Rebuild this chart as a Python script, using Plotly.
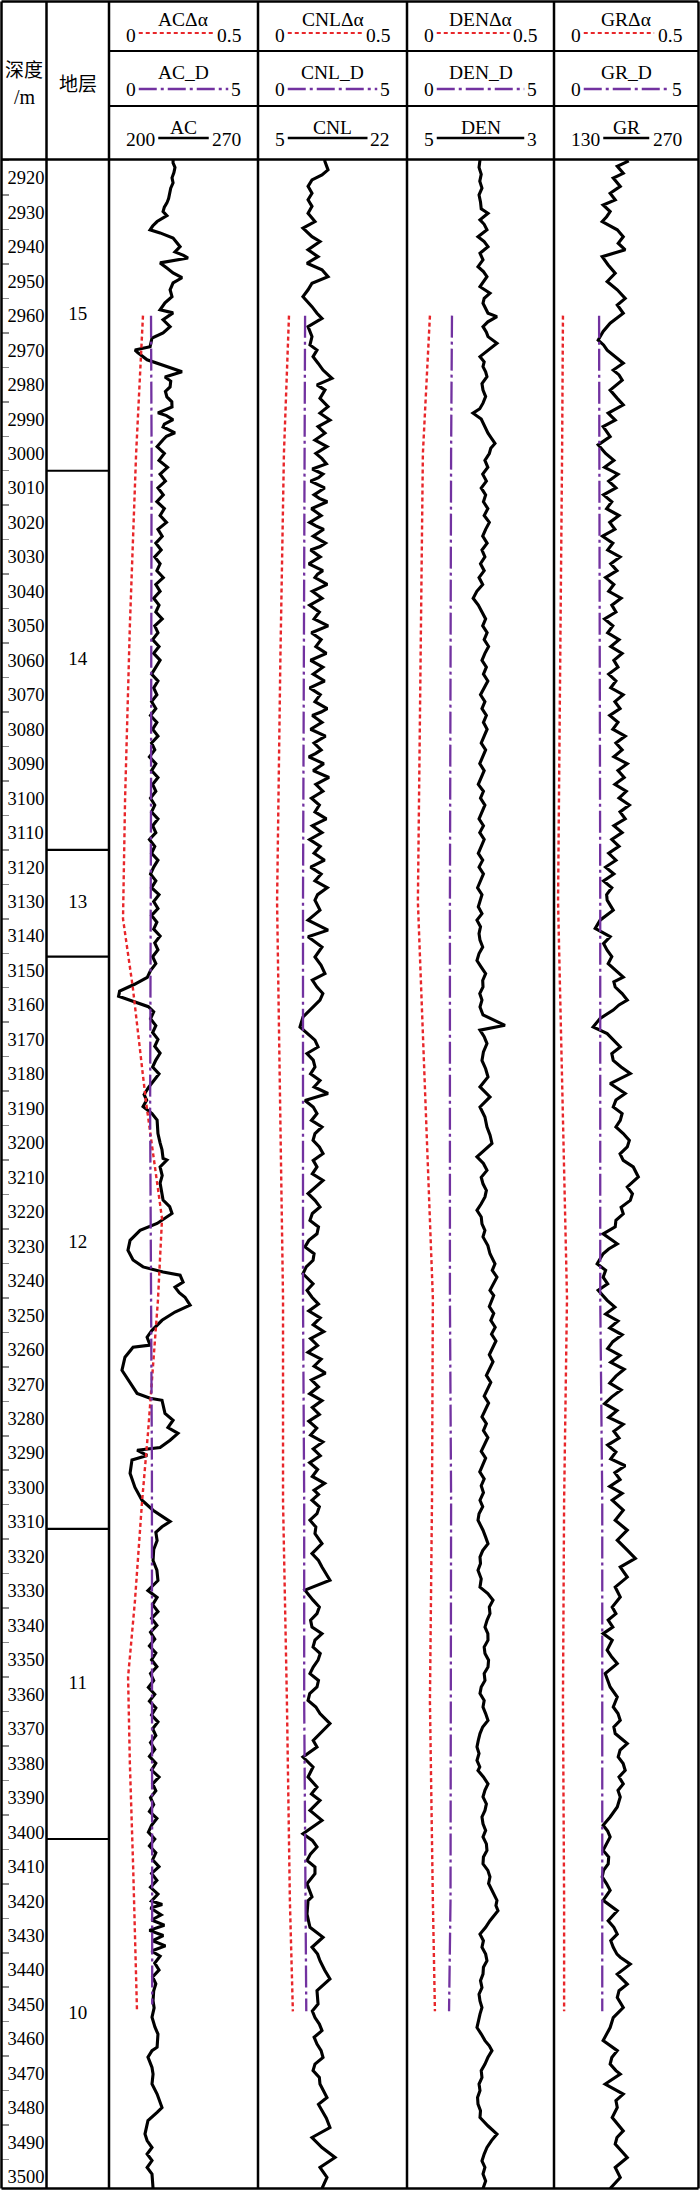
import plotly.graph_objects as go

# ------------------------------------------------------------------ data
FORMATION_NAMES = ["15", "14", "13", "12", "11", "10"]
FORMATION_BOUNDS = [3005, 3115, 3146, 3312, 3402]
DEPTH_TOP, DEPTH_BOTTOM = 2914.7, 3503.4

# (depth m, value)
AC_LOG = [
    (2914.8, 230.1), (2915.7, 230.1), (2917.0, 231.0), (2918.5, 230.5), (2920.0, 229.6), (2921.5, 230.1),
    (2923.0, 229.0), (2924.4, 228.7), (2926.0, 228.0), (2927.3, 227.2), (2928.5, 226.0), (2929.8, 225.4),
    (2931.0, 227.2), (2932.7, 222.6), (2934.0, 220.5), (2935.1, 219.3), (2936.0, 224.0), (2937.5, 230.1),
    (2939.0, 232.0), (2940.0, 233.4), (2941.5, 231.0), (2942.5, 235.0), (2943.3, 237.1), (2944.7, 224.0),
    (2946.2, 227.2), (2947.6, 230.1), (2949.0, 234.3), (2950.5, 230.1), (2952.5, 228.7), (2954.5, 229.6),
    (2956.3, 226.3), (2958.3, 224.0), (2959.2, 230.1), (2961.2, 225.4), (2963.2, 228.7), (2965.0, 225.4),
    (2966.5, 220.2), (2969.0, 219.3), (2970.0, 212.2), (2970.8, 213.6), (2972.8, 217.9), (2974.9, 227.2),
    (2976.3, 234.3), (2977.8, 226.3), (2979.0, 229.0), (2980.7, 228.7), (2982.0, 226.5), (2983.6, 227.2),
    (2985.0, 229.5), (2986.5, 229.6), (2988.2, 223.0), (2989.0, 227.0), (2990.2, 230.1), (2991.5, 226.0),
    (2992.3, 225.4), (2994.0, 231.0), (2995.0, 227.0), (2996.0, 225.4), (2998.0, 222.6),
    (3000, 226.0), (3002, 223.5), (3004, 227.5), (3006, 224.0), (3008, 226.5), (3010, 223.0), (3012, 225.5),
    (3014, 222.5), (3016, 226.0), (3018, 224.0), (3020, 227.0), (3022, 223.0), (3024, 225.0), (3026, 222.0),
    (3028, 224.5), (3030, 221.5), (3032, 224.0), (3034, 222.5), (3036, 225.5), (3038, 222.0), (3040, 224.0),
    (3042, 221.0), (3044, 223.5), (3046, 222.0), (3048, 225.0), (3050, 221.5), (3052, 223.0), (3054, 220.5),
    (3056, 223.5), (3058, 221.0), (3060, 224.0), (3062, 222.0), (3064, 220.0), (3066, 223.0), (3068, 221.0),
    (3070, 222.5), (3072, 220.0), (3074, 222.0), (3076, 219.5), (3078, 222.5), (3080, 220.5), (3082, 223.0),
    (3084, 220.0), (3086, 221.5), (3088, 219.0), (3090, 222.0), (3092, 220.0), (3094, 223.0), (3096, 220.5),
    (3098, 222.0), (3100, 219.5), (3102, 221.5), (3104, 220.0), (3106, 223.0), (3108, 220.5), (3110, 222.0),
    (3112, 219.0), (3114, 221.5), (3116, 220.0), (3118, 223.0), (3120, 221.0), (3122, 219.5), (3124, 222.0),
    (3126, 220.0), (3128, 223.5), (3130, 221.0), (3132, 223.0), (3134, 220.0), (3136, 222.5), (3138, 221.0),
    (3140, 224.0), (3142, 221.5), (3144, 223.0), (3146, 220.5), (3148, 222.0), (3150, 219.5), (3152, 218.0),
    (3154, 212.0), (3156, 205.0), (3157.5, 204.5), (3159, 212.0), (3160.5, 218.5), (3162, 221.0),
    (3164, 219.5), (3166, 222.0), (3168, 220.5), (3170, 223.0), (3172, 221.5), (3174, 224.0), (3176, 222.0),
    (3178, 220.5), (3180, 223.5), (3182, 221.0), (3184, 218.5), (3186, 216.5),
    (3187.6, 217.7), (3189.5, 216.0), (3191.5, 220.2), (3193.4, 222.6), (3197.3, 223.0), (3200.0, 224.0),
    (3202.0, 224.9), (3204.5, 225.4), (3205.0, 227.2), (3207.0, 224.0), (3209.5, 225.0), (3211.7, 224.0),
    (3214.0, 224.5), (3216.6, 225.4), (3218.5, 228.5), (3220.5, 229.6), (3223.4, 222.6), (3225.4, 214.6),
    (3228.3, 209.9), (3231.2, 208.9), (3234.0, 211.3), (3236.0, 216.0), (3237.5, 225.4), (3238.4, 233.4),
    (3240.4, 234.8), (3241.9, 231.0), (3243.5, 233.0), (3244.8, 235.7), (3247.1, 238.1), (3249.1, 231.0),
    (3251.5, 224.9), (3254.4, 220.2), (3256.4, 217.9), (3258.7, 219.3), (3259.3, 211.3), (3262.2, 207.5),
    (3266.0, 206.1), (3269.8, 209.9), (3272.7, 213.2), (3274.1, 219.3), (3274.7, 224.9), (3278.5, 226.3),
    (3280.5, 230.1), (3282.6, 227.7), (3284.3, 232.4), (3286.3, 228.7), (3288.4, 224.0), (3289.2, 213.2),
    (3290.7, 217.9), (3292.0, 210.8), (3295.9, 209.9), (3300.0, 212.2), (3303.7, 215.5), (3306.6, 220.7),
    (3308.7, 225.4), (3309.9, 228.7), (3311.4, 224.9), (3313.0, 222.0), (3315.4, 222.6), (3318.0, 221.0),
    (3321.2, 220.7), (3324.0, 222.5), (3327.0, 223.0), (3329.9, 218.3), (3331.9, 222.6),
    (3334, 220.5), (3336, 223.0), (3338, 220.0), (3340, 222.5), (3342, 219.5), (3344, 221.5), (3346, 219.0),
    (3348, 222.0), (3350, 220.0), (3352, 222.5), (3354, 219.5), (3356, 221.0), (3358, 218.5), (3360, 221.5),
    (3362, 219.0), (3364, 222.0), (3366, 220.0), (3368, 223.0), (3370, 220.5), (3372, 222.0), (3374, 219.5),
    (3376, 221.5), (3378, 219.0), (3380, 222.0), (3382, 220.0), (3384, 223.5), (3386, 220.5), (3388, 222.0),
    (3390, 219.5), (3392, 221.0), (3394, 219.0), (3396, 222.5), (3398, 220.0), (3400, 218.5), (3402, 221.5),
    (3404, 219.0), (3406, 222.0), (3408, 220.5), (3410, 223.5), (3412, 220.0), (3414, 222.5), (3416, 219.5),
    (3418, 223.0), (3420, 220.0), (3421, 225.0), (3422, 219.5), (3424, 224.5), (3425.5, 220.0), (3427, 226.0),
    (3428.5, 219.0), (3430, 225.5), (3431.5, 220.5), (3433, 226.5), (3434.5, 220.0), (3436, 224.0),
    (3438, 221.5), (3440, 223.5), (3442, 220.5), (3444, 222.0), (3446, 221.0),
    (3448.9, 220.7), (3451.0, 221.2), (3453.7, 220.2), (3456.6, 221.6), (3458.6, 223.0), (3462.4, 222.6),
    (3463.4, 220.2), (3465.3, 218.3), (3468.3, 220.2), (3470.2, 220.7), (3473.1, 220.2), (3476.0, 222.6),
    (3479.9, 224.9), (3481.3, 222.6), (3483.7, 218.3), (3487.6, 216.9), (3489.5, 217.9), (3491.5, 220.2),
    (3493.4, 217.9), (3495.3, 220.2), (3497.3, 217.9), (3499.2, 220.2), (3503.4, 220.7),
]

CNL_LOG = [
    (2914.8, 12.6), (2915.3, 12.64), (2917.7, 12.99), (2919.2, 12.30), (2920.6, 11.16), (2922.5, 10.71),
    (2924.5, 11.16), (2926.4, 10.71), (2928.3, 11.16), (2930.3, 10.71), (2932.7, 11.50), (2934.6, 10.13),
    (2937.1, 11.16), (2938.5, 12.07), (2940.9, 10.71), (2942.9, 11.85), (2944.8, 10.59), (2946.7, 12.30),
    (2948.7, 12.99), (2950.6, 11.16), (2952.5, 10.71), (2954.5, 10.13), (2957.4, 11.16), (2959.3, 11.73),
    (2960.8, 12.30), (2963.2, 10.71), (2966.1, 11.16), (2968.5, 10.93), (2970.0, 11.73), (2971.9, 11.28),
    (2973.8, 11.85), (2975.8, 12.42), (2978.2, 13.44), (2980.1, 11.73), (2981.6, 12.64), (2984.0, 12.07),
    (2986.4, 12.99), (2988.3, 12.07), (2990.3, 13.21), (2992.2, 11.85), (2994.1, 12.64), (2996.1, 11.50),
    (2998.0, 12.87),
    (3000, 11.6), (3001.5, 12.3), (3003, 12.8), (3004.5, 11.2), (3006, 12.4), (3007, 11.9), (3008, 11.0),
    (3010, 12.6), (3012, 11.4), (3013, 12.0), (3014, 12.9), (3016, 11.1), (3018, 12.2), (3020, 10.9),
    (3021, 11.6), (3022, 12.5), (3024, 11.3), (3026, 12.7), (3027, 12.1), (3028, 11.0), (3030, 12.1),
    (3032, 10.8), (3034, 12.4), (3035, 11.8), (3036, 11.5), (3038, 12.9), (3040, 11.2), (3042, 12.3),
    (3044, 10.9), (3046, 12.0), (3047, 11.7), (3048, 11.4), (3050, 13.0), (3052, 11.1), (3054, 12.2),
    (3056, 11.6), (3058, 12.8), (3060, 11.0), (3062, 12.4), (3063, 11.9), (3064, 11.3), (3066, 12.6),
    (3068, 10.9), (3070, 12.1), (3072, 11.5), (3074, 12.9), (3075, 12.2), (3076, 11.2), (3078, 12.3),
    (3080, 11.0), (3082, 12.7), (3084, 11.4), (3086, 12.2), (3087, 11.6), (3088, 10.8), (3090, 12.5),
    (3092, 11.3), (3094, 13.1), (3096, 11.6), (3098, 12.4), (3100, 11.1), (3102, 12.0), (3104, 11.5),
    (3106, 12.8), (3108, 11.2), (3110, 12.3), (3112, 10.9), (3114, 12.1), (3116, 11.4), (3118, 12.6),
    (3120, 11.0), (3122, 12.2), (3124, 11.5), (3126, 12.9), (3128, 11.8),
    (3129.6, 11.50), (3132.5, 12.07), (3135.4, 10.71), (3138.3, 12.99), (3140.2, 10.71), (3143.2, 12.30),
    (3146.1, 11.50), (3148.5, 12.2), (3150.9, 12.64), (3152.8, 11.2), (3154.8, 11.73), (3156.7, 12.4),
    (3158.6, 12.07), (3161.5, 10.93), (3163.5, 10.13), (3166.4, 9.79), (3168.3, 10.71), (3170.2, 11.5),
    (3172.2, 11.85), (3174.1, 10.59), (3176.0, 11.3), (3178.0, 11.50), (3180.0, 11.0), (3181.9, 12.07),
    (3183.8, 11.4), (3185.7, 12.99), (3187.7, 10.36), (3189.6, 11.3), (3191.5, 11.73), (3193.5, 11.1),
    (3195.4, 12.30), (3197.3, 11.5), (3199.3, 11.28), (3201.2, 12.0), (3203.1, 12.42), (3205.1, 11.3),
    (3207.0, 11.73), (3209.0, 11.2), (3210.9, 12.42), (3212.8, 11.6), (3214.7, 10.71), (3216.7, 11.5),
    (3218.6, 12.07), (3220.5, 11.2), (3222.5, 10.93), (3224.4, 11.9), (3226.4, 11.73), (3228.3, 10.8),
    (3230.2, 10.36), (3232.2, 11.4), (3234.1, 11.28), (3236.0, 10.5), (3238.0, 10.13), (3240.9, 11.28),
    (3242.8, 10.6), (3244.8, 11.16),
    (3246.8, 11.9), (3248.8, 10.8), (3250.8, 12.1), (3252.8, 11.3), (3254.8, 12.5), (3256.8, 11.0),
    (3258.8, 11.8), (3260.8, 10.7), (3262.8, 12.2), (3264.8, 11.4), (3266.8, 12.7), (3268.8, 11.1),
    (3270.8, 11.9), (3272.8, 10.9), (3274.8, 12.3), (3276.8, 11.2), (3278.8, 12.0), (3280.8, 10.8),
    (3282.8, 11.7), (3284.8, 11.0), (3286.8, 12.4), (3288.8, 11.3), (3290.8, 12.1), (3292.8, 10.9),
    (3294.8, 11.8), (3296.8, 11.2), (3298.8, 12.6), (3300.8, 11.4), (3302.0, 11.9),
    (3303.7, 11.16), (3305.6, 12.0), (3307.6, 11.73), (3309.5, 10.93), (3311.5, 11.6), (3313.4, 11.50),
    (3316.3, 12.30), (3319.2, 11.16), (3321.2, 11.9), (3323.1, 12.30), (3326.9, 13.21), (3329.8, 10.36),
    (3332.7, 11.28), (3334.7, 12.0), (3336.6, 11.73), (3338.5, 11.0), (3340.5, 11.16), (3342.4, 12.30),
    (3344.3, 11.5), (3346.3, 11.28), (3348.2, 12.1), (3350.1, 11.85), (3352.1, 11.3), (3354.0, 10.93),
    (3356.0, 11.9), (3357.9, 11.73), (3359.8, 10.9), (3361.8, 10.71), (3363.7, 11.6), (3365.6, 12.07),
    (3368.5, 13.21), (3371.4, 12.07), (3373.4, 11.3), (3375.3, 11.73), (3378.2, 10.13), (3381.1, 11.28),
    (3384.0, 10.71), (3386.9, 11.73), (3388.9, 11.1), (3390.8, 12.07), (3393.7, 10.93), (3396.6, 12.30),
    (3400.5, 10.13), (3402.4, 11.2), (3404.3, 11.73), (3406.3, 11.0), (3408.2, 10.59), (3410.1, 11.5),
    (3412.1, 11.50), (3415.0, 10.59), (3418.8, 11.16),
    (3419.9, 10.71), (3423.8, 10.59), (3427.6, 10.93), (3430.5, 12.42), (3433.4, 11.16), (3435.4, 11.8),
    (3437.3, 12.07), (3440.0, 12.6), (3442.6, 13.21), (3446.0, 11.73), (3449.9, 11.85), (3451.9, 11.2),
    (3453.8, 11.50), (3455.7, 12.0), (3457.6, 12.30), (3459.5, 11.4), (3461.5, 11.73), (3463.4, 12.2),
    (3465.4, 12.42), (3467.3, 11.5), (3469.2, 11.28), (3471.2, 12.0), (3473.1, 12.07), (3475.0, 12.5),
    (3477.0, 12.87), (3479.0, 11.9), (3480.9, 12.30), (3483.0, 12.8), (3485.7, 13.21), (3488.6, 11.16),
    (3491.5, 12.30), (3494.4, 13.79), (3497.3, 12.07), (3500.2, 12.87), (3503.4, 12.30),
]

DEN_LOG = [
    (2914.8, 4.007), (2917, 4.02), (2919, 3.99), (2921, 4.01), (2923, 3.98), (2925, 4.02), (2927, 4.00),
    (2929, 3.99), (2930.3, 3.898), (2932.2, 4.007), (2933.5, 3.95), (2935.1, 3.912), (2937.1, 4.034),
    (2938.5, 3.95), (2940.0, 3.898), (2941.9, 4.007), (2943.8, 3.966), (2945.8, 4.034), (2947.2, 3.96),
    (2948.7, 3.912), (2951.6, 4.007), (2953.5, 3.871), (2955.0, 3.95), (2956.4, 3.966), (2959.3, 3.898),
    (2960.3, 3.776), (2961.8, 3.90), (2963.2, 3.966), (2964.8, 3.92), (2966.1, 3.898), (2968.0, 3.776),
    (2970.0, 3.898), (2971.9, 4.007), (2973.4, 3.95), (2974.8, 3.966), (2976.3, 3.93), (2977.7, 3.912),
    (2979.7, 3.98), (2981.6, 3.966), (2983.5, 3.93), (2985.4, 3.966), (2987.0, 4.01), (2988.3, 4.102),
    (2990.0, 3.99), (2991.2, 3.966), (2992.7, 3.93), (2994.1, 3.898), (2995.6, 3.85), (2997.1, 3.803),
    (2998.5, 3.86),
    (3000, 3.88), (3002, 3.94), (3004, 3.90), (3006, 3.97), (3008, 3.92), (3010, 3.99), (3012, 3.93),
    (3014, 3.96), (3016, 3.90), (3018, 3.95), (3020, 3.88), (3022, 3.93), (3024, 3.97), (3026, 3.91),
    (3028, 3.98), (3030, 3.94), (3032, 4.00), (3034, 3.95), (3036, 4.02), (3038, 3.97), (3040, 4.05),
    (3042, 4.10), (3044, 4.03), (3046, 3.98), (3048, 3.93), (3050, 3.97), (3052, 3.91), (3054, 3.95),
    (3056, 3.89), (3058, 3.94), (3060, 3.98), (3062, 3.92), (3064, 3.96), (3066, 3.90), (3068, 3.95),
    (3070, 4.00), (3072, 3.94), (3074, 3.98), (3076, 3.92), (3078, 3.96), (3080, 3.91), (3082, 3.95),
    (3084, 3.99), (3086, 3.93), (3088, 3.97), (3090, 4.01), (3092, 3.95), (3094, 3.99), (3096, 4.03),
    (3098, 3.96), (3100, 4.00), (3102, 3.94), (3104, 3.98), (3106, 4.02), (3108, 3.96), (3110, 4.01),
    (3112, 3.95), (3114, 3.99), (3116, 4.03), (3118, 3.97), (3120, 4.02), (3122, 3.96), (3124, 4.00),
    (3126, 4.04), (3128, 3.98),
    (3129.6, 4.00), (3131.5, 4.03), (3133.5, 3.98), (3135.4, 4.048), (3137.3, 4.00), (3139.3, 4.02),
    (3141.2, 4.007), (3143.2, 3.97), (3145.1, 4.02), (3147.1, 4.048), (3149.0, 3.99), (3150.9, 3.93),
    (3152.9, 3.97), (3154.8, 3.966), (3156.7, 4.01), (3158.6, 3.98), (3160.6, 4.007), (3162.9, 3.966),
    (3165.9, 3.667), (3167.3, 4.007), (3169.2, 3.95), (3171.2, 3.912), (3173.6, 3.96), (3176.1, 3.980),
    (3178.5, 3.93), (3180.9, 3.898), (3183.8, 4.007), (3186.7, 3.871), (3189.6, 4.007), (3192.5, 3.94),
    (3195.4, 3.912), (3197.8, 3.87), (3200.2, 3.844), (3202.2, 3.95), (3204.1, 4.048), (3206.0, 3.96),
    (3208.0, 3.912), (3210.0, 3.99), (3211.9, 3.966), (3213.8, 3.92), (3215.7, 3.939), (3217.7, 3.99),
    (3219.6, 4.048), (3221.5, 3.99), (3223.5, 3.980), (3225.4, 3.94), (3227.3, 3.966), (3229.8, 3.90),
    (3232.2, 3.871), (3235.1, 3.803), (3237.0, 3.84), (3239.0, 3.776), (3241.0, 3.83), (3242.8, 3.871),
    (3244.3, 3.82), (3245.7, 3.844),
    (3247.5, 3.88), (3249.5, 3.82), (3251.5, 3.86), (3253.5, 3.80), (3255.5, 3.85), (3257.5, 3.79),
    (3259.5, 3.84), (3261.5, 3.88), (3263.5, 3.83), (3265.5, 3.87), (3267.5, 3.92), (3269.5, 3.86),
    (3271.5, 3.90), (3273.5, 3.95), (3275.5, 3.89), (3277.5, 3.93), (3279.5, 3.98), (3281.5, 3.92),
    (3283.5, 3.96), (3285.5, 3.90), (3287.5, 3.94), (3289.5, 3.99), (3291.5, 3.93), (3293.5, 3.97),
    (3295.5, 4.01), (3297.5, 3.95), (3299.5, 3.99), (3301.5, 3.96),
    (3303.7, 4.007), (3305.6, 3.97), (3307.6, 4.02), (3309.5, 4.034), (3311.5, 3.98), (3312.4, 3.966),
    (3314.4, 3.93), (3316.3, 3.898), (3318.3, 3.97), (3320.2, 4.007), (3322.1, 4.00), (3324.0, 4.034),
    (3326.5, 3.99), (3328.9, 4.007), (3330.8, 3.90), (3332.7, 3.830), (3334.7, 3.88), (3336.6, 3.871),
    (3338.5, 3.91), (3340.5, 3.939), (3342.4, 3.90), (3344.3, 3.898), (3346.3, 3.95), (3348.2, 3.939),
    (3350.1, 3.89), (3352.1, 3.898), (3354.0, 3.95), (3356.0, 3.939), (3357.9, 3.99), (3359.8, 4.007),
    (3361.8, 3.95), (3363.7, 3.966), (3365.6, 3.93), (3367.6, 3.898), (3369.5, 3.97), (3371.4, 4.007),
    (3373.4, 4.03), (3375.3, 4.048), (3377.2, 4.02), (3379.2, 4.048), (3381.1, 4.01), (3382.1, 4.034),
    (3384.0, 3.96), (3386.0, 3.898), (3387.9, 3.94), (3389.8, 3.966), (3391.8, 3.92), (3393.7, 3.939),
    (3395.6, 3.98), (3397.6, 3.966), (3399.5, 3.93), (3401.4, 3.966), (3403.4, 3.92), (3405.3, 3.912),
    (3407.2, 3.96), (3409.2, 3.966), (3411.1, 3.90), (3413.0, 3.871), (3414.9, 3.89), (3416.9, 3.844),
    (3418.3, 3.82), (3419.8, 3.776),
    (3421.3, 3.79), (3422.8, 3.762), (3425.7, 3.871), (3427.6, 3.93), (3429.6, 4.007), (3431.5, 3.96),
    (3433.4, 3.980), (3435.4, 3.93), (3437.3, 3.912), (3439.2, 3.96), (3441.2, 3.966), (3443.1, 4.00),
    (3445.1, 3.980), (3447.0, 4.02), (3449.0, 4.007), (3450.9, 3.98), (3452.8, 4.007), (3454.8, 4.03),
    (3456.7, 4.048), (3458.6, 3.99), (3460.5, 3.939), (3462.0, 3.88), (3463.4, 3.844), (3465.4, 3.90),
    (3467.3, 3.939), (3469.2, 3.99), (3471.2, 3.980), (3473.1, 4.02), (3475.0, 4.007), (3477.0, 4.04),
    (3478.9, 4.034), (3480.8, 4.00), (3482.8, 4.007), (3485.2, 3.90), (3487.6, 3.776), (3489.5, 3.85),
    (3491.5, 3.912), (3493.4, 3.95), (3495.4, 3.980), (3497.3, 3.94), (3499.2, 3.966), (3501.2, 3.93),
    (3503.4, 3.966),
]

GR_LOG = [
    (2914.8, 200.0), (2915.3, 201.0), (2916.7, 191.3), (2918.7, 197.1), (2920.1, 187.4), (2922.5, 194.2),
    (2924.5, 184.4), (2926.4, 189.3), (2927.9, 177.6), (2929.8, 184.4), (2931.3, 181.0), (2932.7, 176.7),
    (2935.1, 191.3), (2937.1, 197.1), (2939.0, 192.2), (2940.9, 199.0), (2942.9, 176.7), (2945.3, 182.5),
    (2947.7, 189.3), (2950.1, 181.5), (2952.5, 191.3), (2955.0, 199.0), (2956.9, 191.3), (2959.3, 197.1),
    (2962.2, 184.4), (2964.6, 177.6), (2967.1, 172.8), (2968.5, 178.0), (2970.0, 181.5), (2971.9, 189.3),
    (2973.8, 197.1), (2975.8, 187.4), (2977.2, 193.0), (2978.7, 196.1), (2981.6, 184.4), (2984.0, 191.3),
    (2985.9, 197.1), (2988.3, 182.5), (2990.3, 189.3), (2992.2, 177.6), (2995.1, 184.4), (2997.5, 172.8),
    (3000, 180.0), (3002, 188.0), (3004, 179.0), (3006, 192.0), (3008, 183.0), (3010, 190.0), (3012, 178.0),
    (3014, 186.0), (3016, 181.0), (3018, 193.0), (3020, 184.0), (3022, 189.0), (3024, 177.0), (3026, 187.0),
    (3028, 182.0), (3030, 194.0), (3032, 185.0), (3034, 191.0), (3036, 180.0), (3038, 188.0), (3040, 183.0),
    (3042, 195.0), (3044, 186.0), (3046, 190.0), (3048, 179.0), (3050, 187.0), (3052, 182.0), (3054, 193.0),
    (3056, 185.0), (3058, 196.0), (3060, 188.0), (3062, 192.0), (3064, 183.0), (3066, 190.0), (3068, 185.0),
    (3070, 197.0), (3072, 189.0), (3074, 194.0), (3076, 184.0), (3078, 192.0), (3080, 187.0), (3082, 199.0),
    (3084, 190.0), (3086, 196.0), (3088, 188.0), (3090, 201.0), (3092, 192.0), (3094, 198.0), (3096, 189.0),
    (3098, 200.0), (3100, 193.0), (3102, 203.0), (3104, 194.0), (3106, 199.0), (3108, 188.0), (3110, 196.0),
    (3112, 186.0), (3114, 193.0), (3116, 183.0), (3118, 190.0), (3120, 180.0), (3122, 188.0), (3124, 178.0),
    (3126, 186.0), (3128, 181.0),
    (3129.6, 181.5), (3132.5, 187.4), (3135.4, 174.7), (3137.8, 169.9), (3140.2, 184.4), (3142.2, 178.0),
    (3144.1, 181.5), (3146.0, 186.0), (3148.0, 182.5), (3150.0, 190.0), (3151.9, 197.1), (3153.3, 188.0),
    (3154.8, 189.3), (3156.7, 196.0), (3158.6, 201.0), (3160.0, 193.0), (3161.5, 187.4), (3163.9, 174.7),
    (3166.4, 167.9), (3168.3, 181.5), (3170.3, 188.0), (3172.2, 194.2), (3174.1, 186.0), (3176.1, 187.4),
    (3178.0, 195.0), (3179.9, 203.9), (3182.8, 184.4), (3185.7, 199.0), (3187.6, 190.0), (3189.6, 187.4),
    (3191.5, 196.0), (3193.5, 194.2), (3195.4, 190.0), (3197.3, 197.1), (3199.3, 203.0), (3201.2, 201.0),
    (3203.2, 194.0), (3205.1, 197.1), (3207.0, 206.8), (3209.9, 211.7), (3212.8, 201.0), (3214.8, 206.0),
    (3216.7, 203.9), (3218.7, 195.0), (3220.6, 197.1), (3222.5, 190.0), (3224.4, 189.3), (3226.4, 177.6),
    (3229.3, 191.3), (3230.8, 183.0), (3232.2, 177.6), (3235.1, 171.8), (3237.0, 180.0), (3239.0, 177.6),
    (3240.9, 182.0), (3242.8, 172.8), (3245.7, 181.5),
    (3247.7, 189.0), (3249.7, 180.0), (3251.7, 192.0), (3253.7, 184.0), (3255.7, 196.0), (3257.7, 187.0),
    (3259.7, 182.0), (3261.7, 194.0), (3263.7, 185.0), (3265.7, 198.0), (3267.7, 190.0), (3269.7, 184.0),
    (3271.7, 195.0), (3273.7, 186.0), (3275.7, 179.0), (3277.7, 191.0), (3279.7, 183.0), (3281.7, 197.0),
    (3283.7, 188.0), (3285.7, 193.0), (3287.7, 182.0), (3289.7, 190.0), (3291.7, 185.0), (3293.7, 199.0),
    (3295.7, 189.0), (3297.7, 194.0), (3299.7, 184.0), (3301.7, 196.0),
    (3303.7, 186.4), (3306.6, 197.1), (3309.5, 189.3), (3312.4, 201.0), (3315.3, 191.3), (3318.2, 201.0),
    (3320.6, 208.8), (3323.1, 194.2), (3326.0, 201.0), (3328.9, 189.3), (3331.8, 194.2), (3334.7, 186.4),
    (3336.6, 190.0), (3338.5, 182.5), (3340.5, 187.0), (3342.4, 177.6), (3344.3, 186.4), (3347.2, 181.5),
    (3349.2, 186.0), (3351.1, 191.3), (3354.0, 179.6), (3357.9, 184.4), (3360.8, 191.3), (3363.7, 187.4),
    (3365.6, 192.0), (3367.6, 194.2), (3369.5, 188.0), (3371.4, 189.3), (3374.3, 201.0), (3376.2, 194.0),
    (3378.2, 192.2), (3380.1, 197.0), (3382.1, 199.0), (3384.0, 193.0), (3386.0, 197.1), (3387.9, 192.0),
    (3389.8, 194.2), (3392.7, 191.3), (3395.6, 184.4), (3398.0, 177.6), (3399.7, 182.0), (3401.4, 184.4),
    (3405.3, 177.6), (3407.2, 183.0), (3409.2, 182.5), (3411.1, 178.0), (3413.0, 176.7), (3415.0, 181.0),
    (3416.9, 184.4), (3419.8, 177.6),
    (3422.8, 191.3), (3425.7, 182.5), (3427.6, 188.0), (3429.6, 191.3), (3431.5, 185.0), (3433.4, 187.4),
    (3435.4, 191.0), (3436.3, 194.2), (3438.3, 203.9), (3441.2, 191.3), (3444.1, 201.0), (3446.0, 193.0),
    (3448.0, 191.3), (3450.9, 197.1), (3453.8, 187.4), (3456.7, 184.4), (3458.6, 181.0), (3460.5, 177.6),
    (3463.4, 191.3), (3465.4, 186.0), (3467.3, 184.4), (3469.2, 190.0), (3470.2, 194.2), (3473.1, 179.6),
    (3476.0, 197.1), (3477.9, 190.0), (3479.9, 191.3), (3482.8, 186.4), (3486.7, 197.1), (3488.6, 191.0),
    (3490.5, 189.3), (3494.4, 201.0), (3497.3, 189.3), (3500.2, 194.2), (3503.4, 184.4),
]

AC_DALPHA = [(2960, 0.114), (3000, 0.091), (3050, 0.070), (3100, 0.054), (3135, 0.047), (3155, 0.080),
             (3188, 0.124), (3222, 0.178), (3246, 0.164), (3284, 0.131), (3304, 0.111), (3333, 0.087),
             (3355, 0.064), (3380, 0.070), (3410, 0.081), (3452, 0.094)]
AC_D = [(2960, 1.41), (3000, 1.43), (3100, 1.41), (3190, 1.38), (3294, 1.44), (3380, 1.44), (3450, 1.45)]

CNL_DALPHA = [(2960, 0.104), (3000, 0.087), (3060, 0.075), (3130, 0.064), (3245, 0.084), (3304, 0.084),
              (3362, 0.097), (3420, 0.107), (3452, 0.117)]
CNL_D = [(2960, 1.58), (3000, 1.56), (3130, 1.51), (3245, 1.51), (3304, 1.55), (3362, 1.55),
         (3420, 1.58), (3452, 1.62)]

DEN_DALPHA = [(2960, 0.078), (3000, 0.054), (3130, 0.037), (3245, 0.088), (3304, 0.085), (3362, 0.078),
              (3420, 0.088), (3452, 0.095)]
DEN_D = [(2960, 1.53), (3000, 1.50), (3130, 1.46), (3245, 1.46), (3304, 1.50), (3362, 1.50),
         (3420, 1.48), (3452, 1.43)]

GR_DALPHA = [(2960, 0.031), (3000, 0.028), (3130, 0.014), (3245, 0.045), (3304, 0.035), (3362, 0.031),
             (3420, 0.035), (3452, 0.035)]
GR_D = [(2960, 1.56), (3000, 1.57), (3130, 1.60), (3245, 1.60), (3304, 1.67), (3362, 1.67),
        (3420, 1.67), (3452, 1.67)]

TRACKS = [
    dict(name="AC", lo=200, hi=270, log=AC_LOG, dalpha=AC_DALPHA, d=AC_D),
    dict(name="CNL", lo=5, hi=22, log=CNL_LOG, dalpha=CNL_DALPHA, d=CNL_D),
    dict(name="DEN", lo=5, hi=3, log=DEN_LOG, dalpha=DEN_DALPHA, d=DEN_D),
    dict(name="GR", lo=130, hi=270, log=GR_LOG, dalpha=GR_DALPHA, d=GR_D),
]
DALPHA_RANGE = [0, 0.5]
D_RANGE = [0, 5]

# ------------------------------------------------------------------ layout constants (px)
W, H = 700, 2190
COL = [1.5, 46.5, 109, 258, 407, 554, 698.5]
ROW = [1.5, 51, 106, 159.5]
BOTTOM = 2188.5
RED = "#e8262a"
PURPLE = "#7232a0"
SERIF = "Liberation Serif"
CJK = "Noto Sans CJK SC"
FS = 19.5


def fx(px):
    return px / W


def fy(py):
    return 1 - py / H


def text_w(s, fs=FS):
    w = 0
    for ch in s:
        w += 0.25 * fs if ch == "." else 0.5 * fs
    return w


fig = go.Figure()
ydom = [fy(BOTTOM), fy(ROW[3])]
yrange = [DEPTH_BOTTOM, DEPTH_TOP]

layout = dict(
    width=W, height=H, autosize=False,
    margin=dict(l=0, r=0, t=0, b=0),
    paper_bgcolor="white", plot_bgcolor="white",
    showlegend=False,
    font=dict(family=SERIF, size=FS, color="black"),
)

# depth column (the depth axis lives here)
layout["xaxis"] = dict(domain=[fx(COL[0]), fx(COL[1])], range=[0, 1], anchor="y",
                       showgrid=False, zeroline=False, showline=False, showticklabels=False,
                       ticks="", fixedrange=True)
layout["yaxis"] = dict(
    domain=ydom, range=yrange, anchor="x", side="left",
    showgrid=False, zeroline=False, showline=False,
    tickmode="linear", tick0=2920, dtick=10, ticks="", ticklen=0,
    ticklabelposition="inside", ticklabelstandoff=3,
    tickfont=dict(family=SERIF, size=18.5, color="black"),
    minor=dict(ticks="inside", ticklen=7, tickwidth=1.5, tickcolor="#8a8a8a", dtick=5, tick0=2915),
    fixedrange=True,
)
fig.add_trace(go.Scatter(x=[None], y=[None], mode="lines", xaxis="x", yaxis="y", hoverinfo="skip"))

# formation column
layout["xaxis2"] = dict(domain=[fx(COL[1]), fx(COL[2])], range=[0, 1], visible=False, fixedrange=True)
layout["yaxis2"] = dict(domain=ydom, range=yrange, anchor="x2", matches="y", visible=False)

tops = [DEPTH_TOP] + FORMATION_BOUNDS
bots = FORMATION_BOUNDS + [DEPTH_BOTTOM]
centers = [(a + b) / 2 for a, b in zip(tops, bots)]
fig.add_trace(go.Scatter(x=[0.5] * len(FORMATION_NAMES), y=centers, text=FORMATION_NAMES,
                         mode="text", textfont=dict(family=SERIF, size=19, color="black"),
                         xaxis="x2", yaxis="y2", hoverinfo="skip"))

shapes = []
annotations = []

for b in FORMATION_BOUNDS:
    shapes.append(dict(type="line", xref="x2 domain", yref="y2", x0=0, x1=1, y0=b, y1=b,
                       line=dict(color="black", width=2.2)))

for i, tr in enumerate(TRACKS):
    nx = 3 + 3 * i
    ny = 3 + i
    L, R = COL[2 + i], COL[3 + i]
    dom = [fx(L), fx(R)]
    layout[f"xaxis{nx}"] = dict(domain=dom, range=[tr["lo"], tr["hi"]], anchor=f"y{ny}",
                                visible=False, fixedrange=True)
    layout[f"xaxis{nx + 1}"] = dict(range=DALPHA_RANGE, overlaying=f"x{nx}", anchor=f"y{ny}",
                                    visible=False, fixedrange=True)
    layout[f"xaxis{nx + 2}"] = dict(range=D_RANGE, overlaying=f"x{nx}", anchor=f"y{ny}",
                                    visible=False, fixedrange=True)
    layout[f"yaxis{ny}"] = dict(domain=ydom, range=yrange, anchor=f"x{nx}", matches="y", visible=False)

    dd, vv = zip(*tr["dalpha"])
    fig.add_trace(go.Scatter(x=vv, y=dd, mode="lines", xaxis=f"x{nx + 1}", yaxis=f"y{ny}",
                             line=dict(color=RED, width=2.4, dash="4px,3px"), hoverinfo="skip"))
    dd, vv = zip(*tr["d"])
    fig.add_trace(go.Scatter(x=vv, y=dd, mode="lines", xaxis=f"x{nx + 2}", yaxis=f"y{ny}",
                             line=dict(color=PURPLE, width=2.3, dash="22px,4px,3px,4px"), hoverinfo="skip"))
    dd, vv = zip(*tr["log"])
    fig.add_trace(go.Scatter(x=vv, y=dd, mode="lines", xaxis=f"x{nx}", yaxis=f"y{ny}",
                             line=dict(color="black", width=3.1), hoverinfo="skip"))

    # header cells
    cx = (L + R) / 2
    rows = [
        (f"{tr['name']}Δα", "0", "0.5", 19.5, 35, 33, dict(color=RED, width=2.2, dash="4px,3px")),
        (f"{tr['name']}_D", "0", "5", 72.5, 90, 89, dict(color=PURPLE, width=2.4, dash="18px,4px,3px,4px")),
        (tr["name"], str(tr["lo"]), str(tr["hi"]), 127.5, 139.5, 138, dict(color="black", width=2.4)),
    ]
    for title, lt, rt, ty, ly, liney, lstyle in rows:
        annotations.append(dict(text=title, x=fx(cx), y=fy(ty), xref="paper", yref="paper",
                                showarrow=False, xanchor="center", yanchor="middle",
                                font=dict(family=SERIF, size=FS, color="black")))
        annotations.append(dict(text=lt, x=fx(L + 15), y=fy(ly), xref="paper", yref="paper",
                                showarrow=False, xanchor="left", yanchor="middle",
                                font=dict(family=SERIF, size=FS, color="black")))
        annotations.append(dict(text=rt, x=fx(R - 15), y=fy(ly), xref="paper", yref="paper",
                                showarrow=False, xanchor="right", yanchor="middle",
                                font=dict(family=SERIF, size=FS, color="black")))
        x0 = L + 15 + text_w(lt) + 5
        x1 = R - 15 - text_w(rt) - 5
        shapes.append(dict(type="line", xref="paper", yref="paper", x0=fx(x0), x1=fx(x1),
                           y0=fy(liney), y1=fy(liney), line=lstyle))

# left header cells
annotations.append(dict(text="深度", x=fx((COL[0] + COL[1]) / 2), y=fy(68), xref="paper", yref="paper",
                        showarrow=False, xanchor="center", yanchor="middle",
                        font=dict(family=CJK, size=19, color="black")))
annotations.append(dict(text="/m", x=fx((COL[0] + COL[1]) / 2 + 1), y=fy(97), xref="paper", yref="paper",
                        showarrow=False, xanchor="center", yanchor="middle",
                        font=dict(family=SERIF, size=20, color="black")))
annotations.append(dict(text="地层", x=fx((COL[1] + COL[2]) / 2), y=fy(82), xref="paper", yref="paper",
                        showarrow=False, xanchor="center", yanchor="middle",
                        font=dict(family=CJK, size=19, color="black")))

# frame
LW = 2.5
for c in COL:
    shapes.append(dict(type="line", xref="paper", yref="paper", x0=fx(c), x1=fx(c),
                       y0=fy(ROW[0]), y1=fy(BOTTOM), line=dict(color="black", width=LW)))
for r in (ROW[0], ROW[3], BOTTOM):
    shapes.append(dict(type="line", xref="paper", yref="paper", x0=fx(COL[0]), x1=fx(COL[-1]),
                       y0=fy(r), y1=fy(r), line=dict(color="black", width=LW)))
for r in (ROW[1], ROW[2]):
    shapes.append(dict(type="line", xref="paper", yref="paper", x0=fx(COL[2]), x1=fx(COL[-1]),
                       y0=fy(r), y1=fy(r), line=dict(color="black", width=2.2)))

layout["shapes"] = shapes
layout["annotations"] = annotations
fig.update_layout(**layout)
fig.write_html("out.html", config={"displayModeBar": False, "staticPlot": True},
               post_script="document.body.style.margin='0';document.body.style.overflow='hidden';")
